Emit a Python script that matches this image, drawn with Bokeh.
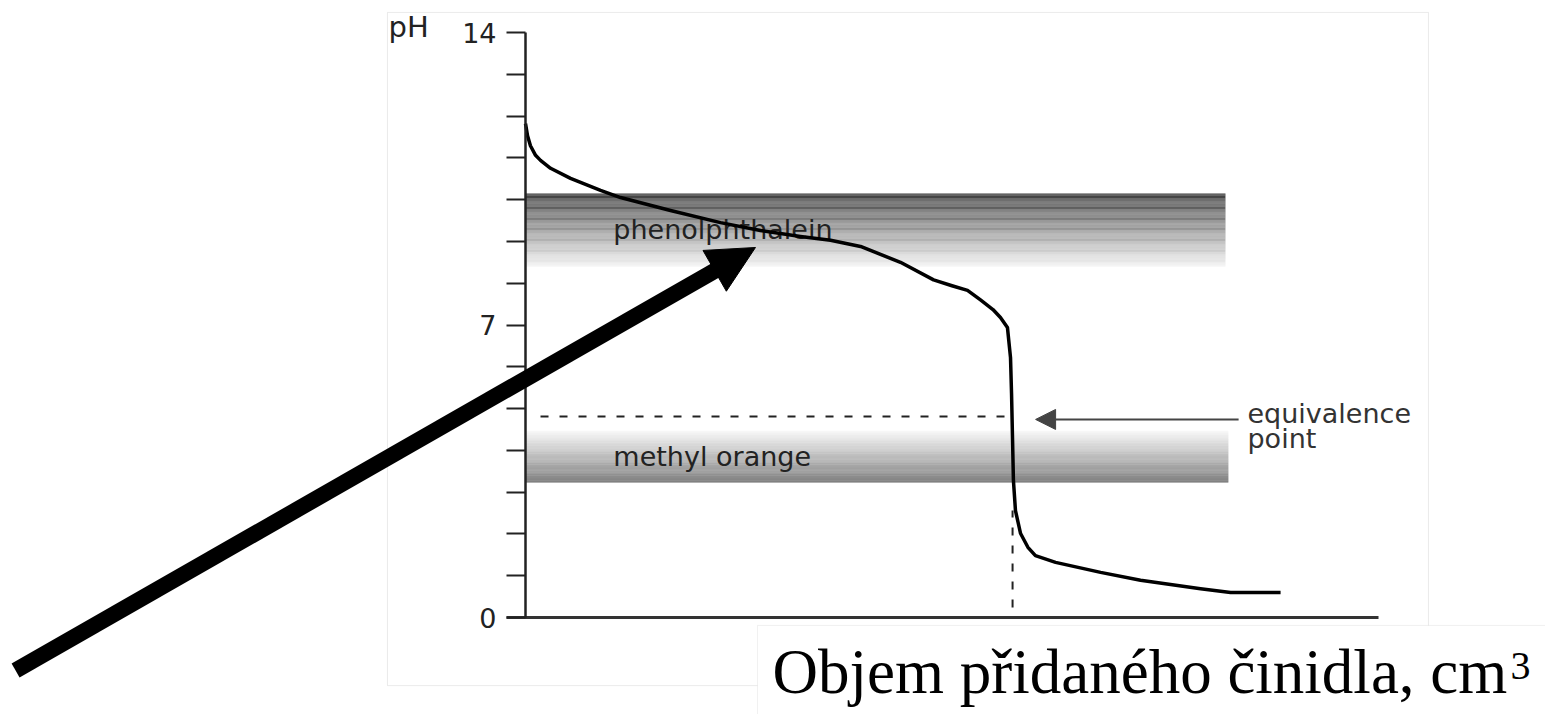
import numpy as np
from bokeh.plotting import figure
from bokeh.models import Range1d, FixedTicker, BoxAnnotation, Label, Arrow, NormalHead
from bokeh.embed import file_html
from bokeh.resources import INLINE
from bokeh.core.properties import value

# ---------------- data ----------------
volume = [0.0, 0.12, 0.29, 0.59, 0.88, 1.47, 2.64, 4.40, 5.57, 8.50, 11.43, 13.77,
          16.12, 17.88, 19.64, 21.98, 23.92, 25.00, 25.91, 26.67, 27.40, 27.84, 28.25,
          28.43, 28.49, 28.55, 28.60, 28.72, 29.02, 29.45, 29.89, 31.07, 33.71, 36.05,
          39.57, 41.33, 44.26]
ph = [11.82, 11.53, 11.29, 11.06, 10.94, 10.75, 10.51, 10.22, 10.05, 9.74, 9.45, 9.26,
      9.12, 9.03, 8.88, 8.50, 8.08, 7.94, 7.83, 7.60, 7.37, 7.18, 6.94,
      6.22, 5.36, 4.24, 3.28, 2.56, 2.01, 1.68, 1.48, 1.32, 1.08, 0.89,
      0.69, 0.60, 0.60]

indicators = ["phenolphthalein", "methyl orange"]
ind_low = [8.40, 3.23]
ind_high = [10.15, 4.47]
ind_end = [41.03, 41.2]
ind_dark_top = [True, False]

equiv_volume = 28.55
equiv_ph = 4.81

ph_ticks = list(range(0, 15))
ph_tick_labels = {14: "14", 7: "7", 0: "0"}

axis_label = "pH"
equiv_text = ["equivalence", "point"]
caption = "Objem přidaného činidla, cm"
caption_sup = "3"

X_MAX = 50
Y_MAX = 14

# ---------------- layout (canvas pixels) ----------------
W, H = 1545, 714
ORIGIN_X, ORIGIN_Y = 525, 617          # where volume 0 / pH 0 sit on the canvas
PX_PER_V = 853 / X_MAX
PX_PER_PH = 585 / Y_MAX

x_range = Range1d(-ORIGIN_X / PX_PER_V, (W - ORIGIN_X) / PX_PER_V)
y_range = Range1d((ORIGIN_Y - H) / PX_PER_PH, ORIGIN_Y / PX_PER_PH)

p = figure(width=W, height=H, output_backend="svg", toolbar_location=None,
           x_range=x_range, y_range=y_range,
           min_border_left=0, min_border_right=0, min_border_top=0, min_border_bottom=0)
p.background_fill_color = "white"
p.border_fill_color = "white"
p.outline_line_color = None
p.xgrid.visible = False
p.ygrid.visible = False

# outer frame of the picture
p.add_layout(BoxAnnotation(left=-8.09, right=52.93, top=14.48, bottom=-1.63,
                           fill_alpha=0, line_color="#bdbdbd", line_width=1, level="underlay"))

# gradient indicator bands
n_strips = 80
for lo, hi, end, dark_top in zip(ind_low, ind_high, ind_end, ind_dark_top):
    edges = np.linspace(hi, lo, n_strips + 1)
    tops, bottoms, colors = [], [], []
    for i in range(n_strips):
        t = (i + 0.5) / n_strips
        if dark_top:
            g = int(60 + (244 - 60) * t)
        else:
            g = int(248 + (98 - 248) * t)
        tops.append(edges[i])
        bottoms.append(edges[i + 1])
        colors.append("#%02x%02x%02x" % (g, g, g))
    p.quad(left=0, right=end, top=tops, bottom=bottoms, fill_color=colors, line_color=None)

for name, lo, hi in zip(indicators, ind_low, ind_high):
    p.text(x=[5.15], y=[(lo + hi) / 2], text=[name], text_font=value("DejaVu Sans"),
           text_font_size="27px", text_color="#222222", text_baseline="middle", text_align="left")

# equivalence dashed guides
p.line(x=[0.88, equiv_volume - 0.45], y=[equiv_ph, equiv_ph], line_color="#222222",
       line_width=2, line_dash="8 11")
p.line(x=[equiv_volume, equiv_volume], y=[0.24, 2.56], line_color="#222222",
       line_width=2, line_dash="8 10")

# titration curve
p.line(x=volume, y=ph, line_color="black", line_width=3.5, line_join="round")

# axes, pinned at volume 0 / pH 0 inside the canvas
ya = p.yaxis[0]
ya.fixed_location = 0
ya.bounds = (0, Y_MAX)
ya.ticker = FixedTicker(ticks=ph_ticks)
ya.major_label_overrides = {t: ph_tick_labels.get(t, "") for t in ph_ticks}
ya.major_tick_out = 19
ya.major_tick_in = 0
ya.minor_tick_out = 0
ya.minor_tick_in = 0
ya.major_tick_line_width = 2
ya.major_tick_line_color = "#222222"
ya.axis_line_width = 2.5
ya.axis_line_color = "#222222"
ya.major_label_text_font = "DejaVu Sans"
ya.major_label_text_font_size = "27px"
ya.major_label_text_color = "#222222"
ya.major_label_text_baseline = "alphabetic"
ya.major_label_standoff = 10

xa = p.xaxis[0]
xa.fixed_location = 0
xa.bounds = (-19 / PX_PER_V, X_MAX)
xa.ticker = FixedTicker(ticks=[])
xa.major_tick_out = 0
xa.major_tick_in = 0
xa.minor_tick_out = 0
xa.axis_line_width = 3
xa.axis_line_color = "#333333"
xa.major_label_text_font_size = "0px"

# pH axis label
p.add_layout(Label(x=-8.03, y=14.12, text=axis_label, text_font="DejaVu Sans",
                   text_font_size="29px", text_color="#222222", text_baseline="alphabetic"))

# equivalence annotation
p.add_layout(Arrow(x_start=41.8, y_start=4.74, x_end=29.9, y_end=4.74,
                   line_color="#444444", line_width=2,
                   end=NormalHead(size=20, fill_color="#444444", line_color="#444444")))
p.add_layout(Label(x=42.32, y=4.88, text=equiv_text[0], text_font="DejaVu Sans",
                   text_font_size="27px", text_color="#333333", text_baseline="alphabetic"))
p.add_layout(Label(x=42.32, y=4.28, text=equiv_text[1], text_font="DejaVu Sans",
                   text_font_size="27px", text_color="#333333", text_baseline="alphabetic"))

# caption box
p.add_layout(BoxAnnotation(left=13.6, right=62, top=-0.19, bottom=-2.6,
                           fill_color="white", fill_alpha=1, line_color="#cccccc", line_width=1))
p.add_layout(Label(x=14.48, y=-1.30, text=caption, text_font="Liberation Serif",
                   text_font_size="63px", text_color="black", text_baseline="alphabetic"))
p.add_layout(Label(x=57.74, y=-1.15, text=caption_sup, text_font="Liberation Serif",
                   text_font_size="40px", text_color="black", text_baseline="alphabetic"))

# big black pointer arrow
p.add_layout(Arrow(x_start=-29.89, y_start=-1.268, x_end=11.43, y_end=8.376,
                   line_color="black", line_width=16, line_cap="butt", end=None))
p.add_layout(Arrow(x_start=11.43, y_start=8.376, x_end=13.48, y_end=8.855,
                   line_color="black", line_width=1,
                   end=NormalHead(size=47, fill_color="black", line_color="black")))

open("out.html", "w").write(file_html(p, INLINE))
